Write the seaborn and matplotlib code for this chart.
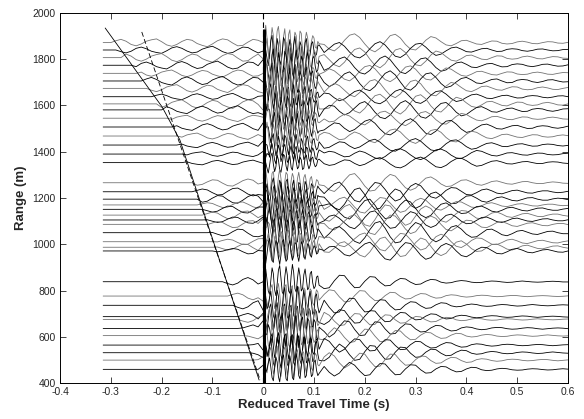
import numpy as np
import pandas as pd
import matplotlib
matplotlib.use('Agg')
import matplotlib.pyplot as plt
import seaborn as sns

# trace offsets (m)
ranges = [1872, 1840, 1807, 1774, 1739, 1706, 1674, 1638, 1607, 1581, 1545, 1507, 1468, 1429, 1390, 1353,
          1266, 1227, 1195, 1170, 1151, 1126, 1105, 1086, 1050, 1011, 987, 971,
          838, 776, 736, 687, 675, 636, 605, 564, 531, 499, 459]
# time where each trace starts to wiggle (s)
onsets = [-0.291, -0.280, -0.270, -0.259, -0.247, -0.236, -0.226, -0.214, -0.204, -0.196, -0.187, -0.178,
          -0.168, -0.161, -0.155, -0.150,
          -0.137, -0.131, -0.126, -0.122, -0.119, -0.116, -0.112, -0.110, -0.104, -0.098, -0.095, -0.092,
          -0.072, -0.063, -0.057, -0.049, -0.047, -0.042, -0.037, -0.031, -0.026, -0.021, -0.015]
groups = ['up'] * 16 + ['mid'] * 12 + ['low'] * 11
# moveout of the coda, in coda samples
shifts = [0, 1, 1, 2, 3, 3, 4, 5, 5, 6, 6, 7, 8, 8, 9, 9,
          0, 1, 1, 2, 3, 3, 4, 4, 5, 6, 6, 7,
          0, 1, 2, 3, 3, 4, 5, 6, 6, 7, 8]
# small jitter of the burst, in burst samples
burst_shifts = [0, 2, 1, 3, 0, 2, 4, 1, 3, 5, 2, 4, 1, 3, 5, 2,
                0, 3, 1, 4, 2, 0, 3, 5, 1, 4, 2, 0,
                0, 2, 4, 1, 3, 5, 0, 2, 4, 1, 3]
scales = [1.0, -0.9, 1.1, -1.0, 0.9, -1.1, 1.0, -0.8, 1.1, -1.0, 0.8, -0.9, 0.8, -0.7, 0.6, -0.6,
          0.9, -1.0, 1.1, -0.8, 1.0, -1.1, 0.9, -1.0, 1.1, -0.9, 1.0, -0.9,
          1.0, -0.9, 1.1, -1.0, 0.9, -1.1, 1.0, -0.9, 1.1, -1.0, 0.9]
colors = ['0.45', 'k', '0.45', 'k', '0.45', 'k', '0.45', 'k', '0.45', 'k', '0.45', 'k', '0.45', 'k', 'k', 'k',
          '0.45', 'k', 'k', '0.45', 'k', '0.45', 'k', '0.45', 'k', '0.45', '0.45', 'k',
          'k', '0.45', 'k', 'k', '0.45', 'k', '0.45', 'k', 'k', '0.45', 'k']

# coda samples (m), one every 0.01 s from -0.3 s to 0.6 s
coda_up = [0, 8, 14, 6, -8, -14, -6, 6, 12, 16, 4, -10, -16, -8, 5, 14, 10, -4, -12, -18,
           -6, 8, 16, 12, -2, -14, -12, 2, 14, 10,
           -6, -18, -10, 8, 20, 14, -4, -20, -16, 6, 22, 12,
           -8, -28, -36, -18, 10, 32, 38, 22, -6, -30, -40, -24, 4, 30, 36, 20, -8, -28, -32, -14,
           10, 26, 20, 4,
           -10, -14, -4, 8, 10, 2, -6, -8, 0, 7, 6, -3, -6, -4, 3, 6, 2, -4, -5, 0, 4, 3, -2, -3, 1]
coda_mid = [0, 3, 5, 2, -3, -5, -2, 3, 5, 2, -3, -4, -1, 3, 4, 1, -6, -12, -8, 4,
            14, 12, -2, -14, -16, -4, 10, 18, 12, -6,
            -18, -14, 4, 20, 18, -2, -20, -22, -4, 18, 24, 8,
            -14, -34, -42, -20, 12, 38, 44, 18, -16, -40, -36, -10, 20, 40, 32, 4, -24, -36, -26, 0,
            22, 28, 14, -6,
            -18, -16, -2, 12, 14, 4, -8, -12, -4, 6, 9, 2, -5, -7, -1, 5, 6, 0, -4, -4, 1, 4, 2, -2, -3]
coda_low = [0, 2, 3, 1, -2, -3, -1, 2, 3, 1, -2, -3, 0, 2, 3, 1, -2, -3, -1, 2,
            3, 0, -2, -8, -14, -6, 10, 18, 8, -10,
            -24, -10, 16, 30, 14, -14, -32, -18, 12, 34, 20, -8,
            -30, -26, 4, 28, 26, -2, -26, -24, 2, 22, 20, -2, -18, -16, 2, 14, 12, -2, -12, -10,
            2, 10, 8, -2,
            -6, -4, 2, 5, 3, -2, -4, -3, 1, 3, 2, -1, -3, -2, 1, 3, 1, -1, -2, -1, 1, 2, 1, -1, -1]
# direct-arrival burst (m), one every 0.0025 s from 0 s to 0.11 s
burst_up = [0, 40, 75, 20, -45, -70, 10, 65, 30, -55, -20, 50, 70, 15, -60, -45, 25, 60, -10, -50,
            35, 55, -25, -65, -5, 45, 30, -40, -20, 50, 40, -35, -55, 10, 45, 20, -30, -40, 5, 30,
            20, -20, -25, 5, -5]
burst_mid = [0, 35, 60, 15, -40, -60, -15, 45, 55, -10, -50, -35, 30, 65, 20, -45, -55, 5, 50, 40,
             -30, -50, 10, 45, 25, -40, -35, 20, 50, 10, -45, -30, 25, 40, 5, -35, -25, 20, 30, -5,
             -25, -15, 15, 10, -10]
burst_low = [0, 30, 55, 10, -40, -55, 5, 60, 35, -35, -60, -10, 50, 70, 15, -45, -55, 20, 65, 30,
             -40, -50, 25, 75, 40, -30, -45, 15, 60, 25, -40, -30, 30, 55, 10, -35, -25, 35, 45, -5,
             -30, -20, 20, 25, -15]

# guide lines (time s, range m)
line1_t = [-0.311, -0.199, -0.164, -0.008]
line1_r = [1935, 1594, 1451, 413]
line2_t = [-0.239, -0.006]
line2_r = [1918, 413]

xtick_labels = ['-0.4', '-0.3', '-0.2', '-0.1', '0', '0.1', '0.2', '0.3', '0.4', '0.5', '0.6']
ytick_vals = [400, 600, 800, 1000, 1200, 1400, 1600, 1800, 2000]

codas = {'up': coda_up, 'mid': coda_mid, 'low': coda_low}
bursts = {'up': burst_up, 'mid': burst_mid, 'low': burst_low}

t_start = -0.315
coda_t0, coda_dt, burst_dt = -0.3, 0.01, 0.0025

frames = []
for i, r in enumerate(ranges):
    coda = np.roll(np.array(codas[groups[i]], float), shifts[i]) * scales[i]
    burst = np.roll(np.array(bursts[groups[i]], float), burst_shifts[i]) * scales[i]
    tc = coda_t0 + coda_dt * np.arange(len(coda))
    tb = burst_dt * np.arange(len(burst))
    pre = tc < -1e-9
    post = tc > tb[-1] + 1e-9
    t = np.concatenate([[t_start], tc[pre], tb, tc[post]])
    a = np.concatenate([[0], coda[pre], burst, coda[post]])
    a[t < onsets[i]] = 0
    frames.append(pd.DataFrame({'time': t, 'y': r + a, 'trace': i}))
df = pd.concat(frames, ignore_index=True)

sns.set_style('ticks')
plt.rcParams['font.family'] = ['Liberation Sans', 'DejaVu Sans']

fig = plt.figure(figsize=(5.84, 4.19), dpi=100)
ax = fig.add_axes([0.1027, 0.0859, 0.8699, 0.8831])

sns.lineplot(data=df, x='time', y='y', hue='trace', units='trace', estimator=None, sort=False,
             palette=colors, legend=False, lw=0.6, ax=ax)

ax.axvline(0, color='k', lw=0.8, ls=(0, (5, 3)))
ax.vlines(0.002, 400, 1930, color='k', lw=2.2)
ax.plot(line1_t, line1_r, color='k', lw=0.6)
ax.plot(line2_t, line2_r, color='k', lw=0.6, ls=(0, (6, 3)))

ax.set_xlim(-0.4, 0.6)
ax.set_ylim(400, 2000)
ax.set_xticks(np.arange(len(xtick_labels)) * 0.1 - 0.4)
ax.set_xticklabels(xtick_labels)
ax.set_yticks(ytick_vals)
ax.tick_params(direction='in', top=True, right=True, length=4, width=0.6, labelsize=7.5, pad=3)
for s in ax.spines.values():
    s.set_linewidth(0.7)
    s.set_color('k')

ax.set_xlabel('Reduced Travel Time (s)', fontsize=9.5, fontweight='bold', labelpad=1)
ax.set_ylabel('Range (m)', fontsize=9.5, fontweight='bold', labelpad=4)

fig.savefig('out.png', dpi=100)
